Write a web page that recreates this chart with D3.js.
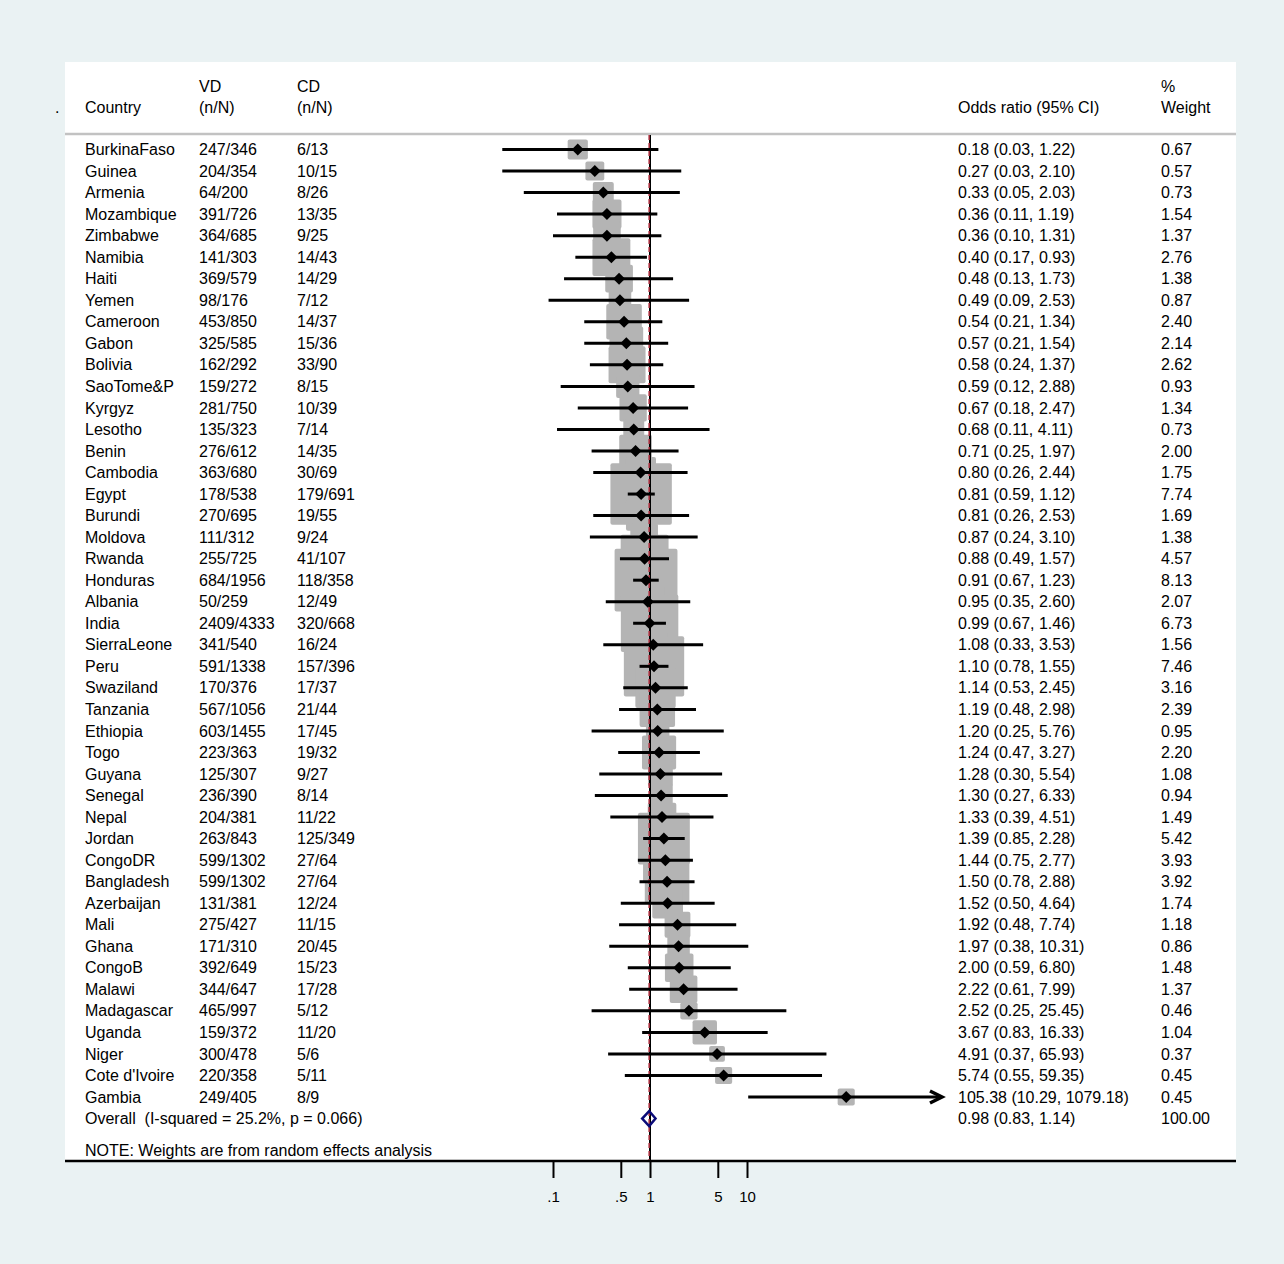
<!DOCTYPE html>
<html><head><meta charset="utf-8">
<script src="https://cdn.jsdelivr.net/npm/d3@7"></script>
<style>
html,body{margin:0;padding:0;background:#EAF2F3;}
svg{display:block;font-family:"Liberation Sans",Arial,sans-serif;}
text{white-space:pre;}
</style></head>
<body><svg id="c" width="1284" height="1264"></svg>
<script>
const countries = ["BurkinaFaso","Guinea","Armenia","Mozambique","Zimbabwe","Namibia","Haiti","Yemen","Cameroon","Gabon","Bolivia","SaoTome&P","Kyrgyz","Lesotho","Benin","Cambodia","Egypt","Burundi","Moldova","Rwanda","Honduras","Albania","India","SierraLeone","Peru","Swaziland","Tanzania","Ethiopia","Togo","Guyana","Senegal","Nepal","Jordan","CongoDR","Bangladesh","Azerbaijan","Mali","Ghana","CongoB","Malawi","Madagascar","Uganda","Niger","Cote d'Ivoire","Gambia"];
const vd = ["247/346","204/354","64/200","391/726","364/685","141/303","369/579","98/176","453/850","325/585","162/292","159/272","281/750","135/323","276/612","363/680","178/538","270/695","111/312","255/725","684/1956","50/259","2409/4333","341/540","591/1338","170/376","567/1056","603/1455","223/363","125/307","236/390","204/381","263/843","599/1302","599/1302","131/381","275/427","171/310","392/649","344/647","465/997","159/372","300/478","220/358","249/405"];
const cd = ["6/13","10/15","8/26","13/35","9/25","14/43","14/29","7/12","14/37","15/36","33/90","8/15","10/39","7/14","14/35","30/69","179/691","19/55","9/24","41/107","118/358","12/49","320/668","16/24","157/396","17/37","21/44","17/45","19/32","9/27","8/14","11/22","125/349","27/64","27/64","12/24","11/15","20/45","15/23","17/28","5/12","11/20","5/6","5/11","8/9"];
const oddsRatio = [0.18,0.27,0.33,0.36,0.36,0.40,0.48,0.49,0.54,0.57,0.58,0.59,0.67,0.68,0.71,0.80,0.81,0.81,0.87,0.88,0.91,0.95,0.99,1.08,1.10,1.14,1.19,1.20,1.24,1.28,1.30,1.33,1.39,1.44,1.50,1.52,1.92,1.97,2.00,2.22,2.52,3.67,4.91,5.74,105.38];
const ciLower = [0.03,0.03,0.05,0.11,0.10,0.17,0.13,0.09,0.21,0.21,0.24,0.12,0.18,0.11,0.25,0.26,0.59,0.26,0.24,0.49,0.67,0.35,0.67,0.33,0.78,0.53,0.48,0.25,0.47,0.30,0.27,0.39,0.85,0.75,0.78,0.50,0.48,0.38,0.59,0.61,0.25,0.83,0.37,0.55,10.29];
const ciUpper = [1.22,2.10,2.03,1.19,1.31,0.93,1.73,2.53,1.34,1.54,1.37,2.88,2.47,4.11,1.97,2.44,1.12,2.53,3.10,1.57,1.23,2.60,1.46,3.53,1.55,2.45,2.98,5.76,3.27,5.54,6.33,4.51,2.28,2.77,2.88,4.64,7.74,10.31,6.80,7.99,25.45,16.33,65.93,59.35,1079.18];
const weights = [0.67,0.57,0.73,1.54,1.37,2.76,1.38,0.87,2.40,2.14,2.62,0.93,1.34,0.73,2.00,1.75,7.74,1.69,1.38,4.57,8.13,2.07,6.73,1.56,7.46,3.16,2.39,0.95,2.20,1.08,0.94,1.49,5.42,3.93,3.92,1.74,1.18,0.86,1.48,1.37,0.46,1.04,0.37,0.45,0.45];
const overall = {label:"Overall  (I-squared = 25.2%, p = 0.066)", or:0.98, lo:0.83, hi:1.14, weight:100.00};
const tickValues = [0.1,0.5,1,5,10];
const tickLabels = [".1",".5","1","5","10"];
const noteText = "NOTE: Weights are from random effects analysis";

const svg = d3.select("#c");
const f2 = d3.format(".2f");

// layout
const panel = {x0:65, x1:1236, y0:62, y1:1161};
const x = d3.scaleLog().domain([0.1,10]).range([553,747]);
const xClip = x.invert(943);
const y = d3.scaleLinear().domain([0, countries.length-1]).range([149.5, 1097]);
const cols = {country:85, vd:199, cd:297, or:958, w:1161};
const fs = 16;

svg.append("rect").attr("x",0).attr("y",0).attr("width",1284).attr("height",1264).attr("fill","#EAF2F3");
svg.append("rect").attr("x",panel.x0).attr("y",panel.y0).attr("width",panel.x1-panel.x0).attr("height",panel.y1-panel.y0).attr("fill","#fff");

// header
const hdr = svg.append("g").attr("font-size",fs).attr("fill","#000");
const h1 = 86, h2 = 107;
hdr.append("text").attr("x",55).attr("y",h2).attr("dy","0.35em").text(".");
hdr.append("text").attr("x",cols.country).attr("y",h2).attr("dy","0.35em").text("Country");
hdr.append("text").attr("x",cols.vd).attr("y",h1).attr("dy","0.35em").text("VD");
hdr.append("text").attr("x",cols.vd).attr("y",h2).attr("dy","0.35em").text("(n/N)");
hdr.append("text").attr("x",cols.cd).attr("y",h1).attr("dy","0.35em").text("CD");
hdr.append("text").attr("x",cols.cd).attr("y",h2).attr("dy","0.35em").text("(n/N)");
hdr.append("text").attr("x",cols.or).attr("y",h2).attr("dy","0.35em").text("Odds ratio (95% CI)");
hdr.append("text").attr("x",cols.w).attr("y",h1).attr("dy","0.35em").text("%");
hdr.append("text").attr("x",cols.w).attr("y",h2).attr("dy","0.35em").text("Weight");
svg.append("line").attr("x1",panel.x0).attr("x2",panel.x1).attr("y1",134).attr("y2",134).attr("stroke","#C2C2C2").attr("stroke-width",2.5);

const rows = countries.map((c,i)=>({c, vd:vd[i], cd:cd[i], or:oddsRatio[i], lo:ciLower[i], hi:ciUpper[i], w:weights[i], i}));

// weight boxes
svg.append("g").selectAll("rect").data(rows).join("rect")
  .attr("x",d=>x(d.or)-(3+21*Math.sqrt(d.w))/2)
  .attr("y",d=>y(d.i)-(3+21*Math.sqrt(d.w))/2)
  .attr("width",d=>3+21*Math.sqrt(d.w))
  .attr("height",d=>3+21*Math.sqrt(d.w))
  .attr("rx",2).attr("fill","#B4B4B4");

// null line at 1
svg.append("line").attr("x1",x(1)).attr("x2",x(1)).attr("y1",135).attr("y2",panel.y1).attr("stroke","#000").attr("stroke-width",2);
// overall effect line
svg.append("line").attr("x1",x(overall.or)).attr("x2",x(overall.or)).attr("y1",135).attr("y2",panel.y1)
  .attr("stroke","#B03040").attr("stroke-width",1.5).attr("stroke-dasharray","5,3");

// CI lines
svg.append("g").selectAll("line").data(rows).join("line")
  .attr("x1",d=>x(d.lo)).attr("x2",d=>d.hi>xClip?x(xClip)-3:x(d.hi))
  .attr("y1",d=>y(d.i)).attr("y2",d=>y(d.i))
  .attr("stroke","#000").attr("stroke-width",3);
// arrows for clipped CIs
svg.append("g").selectAll("path").data(rows.filter(d=>d.hi>xClip)).join("path")
  .attr("d",d=>{const tx=x(xClip)-1, yy=y(d.i); return `M${tx-12},${yy-6}L${tx},${yy}L${tx-12},${yy+6}`;})
  .attr("fill","none").attr("stroke","#000").attr("stroke-width",3.5).attr("stroke-linejoin","miter");

// point diamonds
svg.append("g").selectAll("path").data(rows).join("path")
  .attr("d",d=>{const cx=x(d.or), cy=y(d.i), r=6; return `M${cx-r},${cy}L${cx},${cy-r}L${cx+r},${cy}L${cx},${cy+r}Z`;})
  .attr("fill","#000");

// overall diamond
const oy = y(countries.length);
svg.append("path")
  .attr("d",`M${x(overall.lo)},${oy}L${x(overall.or)},${oy-7.5}L${x(overall.hi)},${oy}L${x(overall.or)},${oy+7.5}Z`)
  .attr("fill","none").attr("stroke","#0A0A78").attr("stroke-width",2.5);

// row texts
const tg = svg.append("g").attr("font-size",fs).attr("fill","#000");
const rg = tg.selectAll("g").data(rows).join("g");
rg.append("text").attr("x",cols.country).attr("y",d=>y(d.i)).attr("dy","0.35em").text(d=>d.c);
rg.append("text").attr("x",cols.vd).attr("y",d=>y(d.i)).attr("dy","0.35em").text(d=>d.vd);
rg.append("text").attr("x",cols.cd).attr("y",d=>y(d.i)).attr("dy","0.35em").text(d=>d.cd);
rg.append("text").attr("x",cols.or).attr("y",d=>y(d.i)).attr("dy","0.35em").text(d=>`${f2(d.or)} (${f2(d.lo)}, ${f2(d.hi)})`);
rg.append("text").attr("x",cols.w).attr("y",d=>y(d.i)).attr("dy","0.35em").text(d=>f2(d.w));
tg.append("text").attr("x",cols.country).attr("y",oy).attr("dy","0.35em").text(overall.label);
tg.append("text").attr("x",cols.or).attr("y",oy).attr("dy","0.35em").text(`${f2(overall.or)} (${f2(overall.lo)}, ${f2(overall.hi)})`);
tg.append("text").attr("x",cols.w).attr("y",oy).attr("dy","0.35em").text(f2(overall.weight));
tg.append("text").attr("x",cols.country).attr("y",y(countries.length+1.5)).attr("dy","0.35em").text(noteText);

// axis
const axis = d3.axisBottom(x).tickValues(tickValues).tickFormat((d,i)=>tickLabels[i]).tickSize(17).tickPadding(13);
const ag = svg.append("g").attr("transform",`translate(0,${panel.y1})`).call(axis);
ag.select(".domain").remove();
ag.selectAll(".tick line").attr("stroke","#000").attr("stroke-width",2);
ag.selectAll(".tick text").attr("font-size",15).attr("fill","#000").attr("font-family","'Liberation Sans',Arial,sans-serif");
svg.append("line").attr("x1",panel.x0).attr("x2",panel.x1).attr("y1",panel.y1).attr("y2",panel.y1).attr("stroke","#000").attr("stroke-width",2.5);
</script></body></html>
